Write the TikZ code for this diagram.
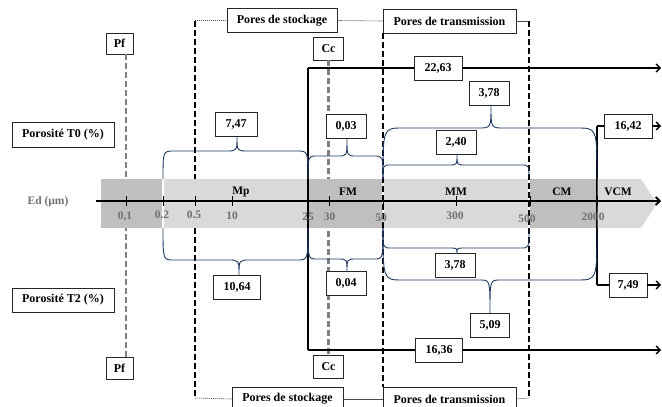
\documentclass[tikz,border=0pt]{standalone}
\usepackage{fontspec}
\setmainfont{Liberation Serif}
\usetikzlibrary{arrows.meta,calc}
\definecolor{bandD}{HTML}{BFBFBF}
\definecolor{bandL}{HTML}{D9D9D9}
\definecolor{navy}{HTML}{1F3864}
\definecolor{numgray}{HTML}{707070}
\definecolor{pfgray}{HTML}{808080}
\newcommand\mybrace[8]{\draw[brc] (#1,#4) .. controls (#1,#5) .. ({#1+#7},#5) -- ({#3-#8},#5) .. controls (#3,#5) .. (#3,#6) .. controls (#3,#5) .. ({#3+#8},#5) -- ({#2-#7},#5) .. controls (#2,#5) .. (#2,#4);}
\tikzset{
  bx/.style={draw=black!85, line width=0.8pt, fill=white, font=\fontsize{12}{13}\selectfont\bfseries, minimum height=24, inner xsep=3, inner ysep=0},
  vbox/.style={bx, minimum width=#1},
  vbox/.default=42,
  brc/.style={draw=navy, line width=0.9pt},
  blk/.style={draw=black, line width=1.4pt},
  arr/.style={-{Straight Barb[length=4pt,width=8pt]}},
  thdash/.style={draw=black, line width=2pt, dash pattern=on 6pt off 3pt},
  grdash/.style={draw=pfgray, line width=2.2pt, dash pattern=on 6pt off 3pt},
  dotl/.style={draw=black!70, line width=0.6pt, dash pattern=on 1.2pt off 0.8pt},
  tck/.style={draw=black, line width=0.8pt},
  num/.style={text=numgray, font=\fontsize{11.5}{13}\selectfont\bfseries, inner sep=0},
  blab/.style={text=black, font=\fontsize{11.5}{13}\selectfont\bfseries, inner sep=0},
}
\begin{document}
\begin{tikzpicture}[x=1pt,y=-1pt]
\useasboundingbox (0,0) rectangle (662,407);
% group boxes
\node[bx, minimum width=110] (pst) at (282,20.5) {Pores de stockage};
\node[bx, minimum width=133] (ptt) at (449.5,21) {Pores de transmission};
\node[bx, minimum width=111] (psb) at (287.5,399) {Pores de stockage};
\node[bx, minimum width=133] (ptb) at (449.5,399) {Pores de transmission};
\coordinate (sTL) at (195,20.5);
\coordinate (sBL) at (195,398);
\coordinate (tTR) at (529,21);
\coordinate (tBR) at (529,398);
\draw[dotl] (sTL) -- (pst.west);
\draw[dotl] (pst.east) -- (ptt.west);
\draw[dotl] (ptt.east) -- (tTR);
\draw[dotl] (sBL) -- (psb.west);
\draw[dotl] (psb.east) -- (ptb.west);
\draw[dotl] (ptb.east) -- (tBR);
\draw[thdash] (sTL) -- (sBL);
\draw[thdash] (tTR) -- (tBR);
\draw[thdash] (ptt.south west) -- (ptb.north west);
% Pf and Cc
\node[bx, minimum width=27, minimum height=21] (pf1) at (119.5,43.5) {Pf};
\node[bx, minimum width=27, minimum height=22] (pf2) at (119.5,368.5) {Pf};
\node[bx, minimum width=30, minimum height=23] (cc1) at (328.5,48.5) {Cc};
\node[bx, minimum width=30, minimum height=23] (cc2) at (328.5,366.5) {Cc};
\draw[grdash] (126,54) -- (126,357.5);
\draw[grdash] (cc1.south) -- (cc2.north);
% black connectors
\coordinate (tl) at (308,68);
\coordinate (bl) at (308,350);
\coordinate (tr) at (661,68);
\coordinate (br) at (661,350);
\coordinate (ql) at (597,126);
\coordinate (qb) at (597,285);
\coordinate (qr) at (661,126);
\coordinate (qbr) at (661,285);
\node[vbox=48] (v2263) at (438,68) {22,63};
\node[vbox=47] (v1636) at (439,350) {16,36};
\node[vbox=48] (v1642) at (628,126) {16,42};
\node[vbox=38] (v749) at (628,285) {7,49};
\draw[blk] (tl) -- (bl);
\draw[blk] (tl) -- (v2263);
\draw[blk,arr] (v2263) -- (tr);
\draw[blk] (bl) -- (v1636);
\draw[blk,arr] (v1636) -- (br);
\draw[blk] (ql) -- (qb);
\draw[blk] (ql) -- (v1642);
\draw[blk,arr] (v1642) -- (qr);
\draw[blk] (qb) -- (v749);
\draw[blk,arr] (v749) -- (qbr);
% braces
\mybrace{163}{308}{237}{179}{151}{137}{11}{11}
\mybrace{308}{383}{347}{179}{156}{139}{9}{9}
\mybrace{383}{529}{457}{179}{165}{155}{8}{8}
\mybrace{383}{597}{491}{179}{128}{106}{20}{13}
\mybrace{163}{308}{239}{228}{260}{275}{11}{11}
\mybrace{308}{383}{347}{228}{259}{272}{9}{9}
\mybrace{383}{529}{457}{228}{248}{253}{8}{8}
\mybrace{383}{597}{490}{228}{280}{313}{20}{10}
% band
\fill[bandD] (101,179) rectangle (162.3,228);
\fill[bandL] (163.7,179) rectangle (307.3,228);
\fill[bandD] (308.7,179) rectangle (382.3,228);
\fill[bandL] (383.7,179) rectangle (528.3,228);
\fill[bandD] (529.7,179) rectangle (596.3,228);
\fill[bandL] (597.7,179) -- (641,179) -- (657,203.5) -- (641,228) -- (597.7,228) -- cycle;
% axis
\coordinate (ax0) at (96,201);
\coordinate (ax1) at (661,201);
\draw[black, line width=1.8pt, arr] (ax0) -- (ax1);
\foreach \x in {126,163,195,232,308,329,383,456,530,597} \draw[tck] (\x,196) -- (\x,206);
\node[num] (ed) at (48,202) {Ed (µm)};
\node[num] (n01) at (125,217) {0,1};
\node[num] (n02) at (162,215) {0.2};
\node[num] (n05) at (194,215) {0.5};
\node[num] (n10) at (232,216) {10};
\node[num] (n25) at (308,217) {25};
\node[num] (n30) at (329.5,217) {30};
\node[num] (n50) at (381,218) {50};
\node[num] (n300) at (455,216) {300};
\node[num] (n500) at (527,219) {500};
\node[num] (n2000) at (593,217) {2000};
\node[blab] (mp) at (241,192) {Mp};
\node[blab] (fm) at (348,192) {FM};
\node[blab] (mm) at (456,192) {MM};
\node[blab] (cm) at (562,192) {CM};
\node[blab] (vcm) at (618,192) {VCM};
% value boxes
\node[vbox=42] (v747) at (236,124) {7,47};
\node[vbox=40] (v003) at (346,126) {0,03};
\node[vbox=40] (v378a) at (489,93) {3,78};
\node[vbox=40] (v240) at (456,142) {2,40};
\node[vbox=47] (v1064) at (237,287) {10,64};
\node[vbox=40] (v004) at (346,283.5) {0,04};
\node[vbox=40] (v378b) at (455,265) {3,78};
\node[vbox=39] (v509) at (490,325) {5,09};
% row labels
\node[bx, minimum width=102, minimum height=25] (pt0) at (63,134.5) {Porosité T0 (\%)};
\node[bx, minimum width=102, minimum height=24] (pt2) at (63,300) {Porosité T2 (\%)};
\end{tikzpicture}
\end{document}
